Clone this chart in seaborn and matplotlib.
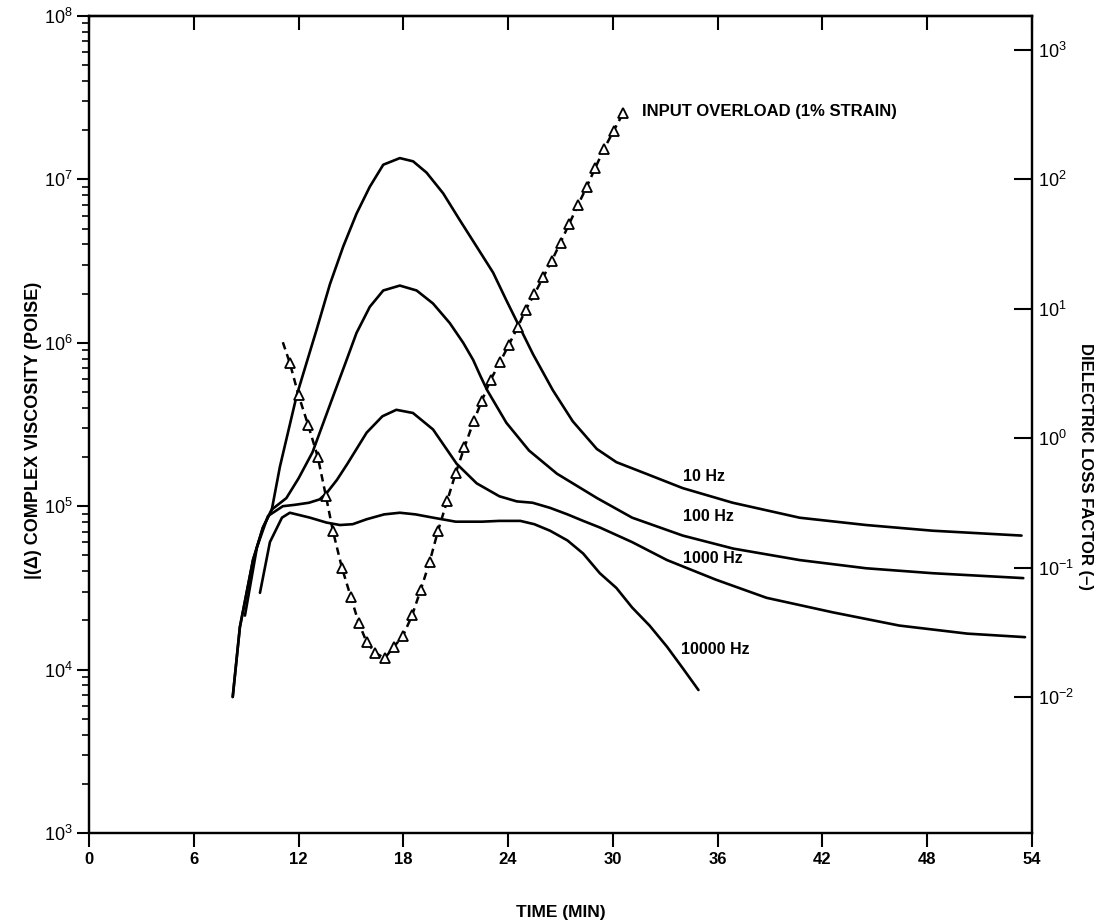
import matplotlib
matplotlib.use("Agg")
import matplotlib.pyplot as plt
import matplotlib.ticker as mticker
import seaborn as sns

# ---------------- data ----------------
time_ticks = [0, 6, 12, 18, 24, 30, 36, 42, 48, 54]

t_10hz = [8.23, 8.64, 9.39, 9.96, 10.47, 10.93, 11.9, 12.55, 13.03, 13.8, 14.56, 15.32,
          16.08, 16.85, 17.8, 18.56, 19.33, 20.28, 21.24, 22.19, 23.14, 23.9, 24.5, 25.43,
          26.56, 27.7, 29.08, 30.2, 32.1, 34.0, 36.86, 40.7, 44.5, 48.3, 53.4]
eta_10hz = [6.8e3, 1.82e4, 4.68e4, 7.41e4, 9.55e4, 1.74e5, 4.79e5, 8.13e5, 1.20e6, 2.29e6,
            3.89e6, 6.17e6, 9.02e6, 1.23e7, 1.35e7, 1.29e7, 1.10e7, 8.22e6, 5.62e6, 3.89e6,
            2.69e6, 1.82e6, 1.35e6, 8.5e5, 5.13e5, 3.31e5, 2.24e5, 1.86e5, 1.55e5, 1.29e5,
            1.05e5, 8.5e4, 7.67e4, 7.08e4, 6.61e4]

t_100hz = [8.23, 8.64, 9.39, 9.96, 10.47, 11.3, 12.0, 12.8, 13.97, 14.75, 15.32, 16.08,
           16.85, 17.8, 18.76, 19.7, 20.66, 21.43, 22.0, 22.4, 22.8, 23.9, 25.2, 26.8,
           29.1, 31.1, 34.0, 36.9, 40.7, 44.5, 48.3, 53.5]
eta_100hz = [6.8e3, 1.82e4, 4.68e4, 7.41e4, 9.55e4, 1.12e5, 1.48e5, 2.14e5, 4.68e5, 7.85e5,
             1.15e6, 1.66e6, 2.09e6, 2.24e6, 2.09e6, 1.74e6, 1.32e6, 1.0e6, 7.85e5, 6.31e5,
             5.13e5, 3.24e5, 2.19e5, 1.58e5, 1.12e5, 8.51e4, 6.61e4, 5.50e4, 4.68e4, 4.17e4,
             3.89e4, 3.63e4]

t_1000hz = [8.93, 9.62, 10.25, 11.1, 11.8, 12.6, 13.2, 13.6, 14.2, 14.8, 15.9, 16.8, 17.6,
            18.55, 19.7, 21.05, 22.2, 23.5, 24.5, 25.4, 26.4, 27.4, 28.3, 29.25, 31.1, 33.1,
            35.9, 38.8, 42.6, 46.4, 50.3, 53.6]
eta_1000hz = [2.14e4, 5.62e4, 8.71e4, 1.0e5, 1.02e5, 1.05e5, 1.10e5, 1.20e5, 1.45e5, 1.82e5,
              2.82e5, 3.55e5, 3.89e5, 3.72e5, 2.95e5, 1.82e5, 1.38e5, 1.15e5, 1.07e5, 1.05e5,
              9.77e4, 8.91e4, 8.13e4, 7.41e4, 6.03e4, 4.68e4, 3.55e4, 2.75e4, 2.24e4, 1.86e4,
              1.66e4, 1.58e4]

t_10000hz = [9.79, 10.36, 11.05, 11.5, 12.65, 13.6, 14.37, 15.1, 15.9, 16.9, 17.8, 18.7,
             19.7, 21.0, 22.5, 23.5, 24.7, 25.5, 26.4, 27.4, 28.3, 29.25, 30.2, 31.1, 32.1,
             33.1, 34.0, 34.9]
eta_10000hz = [2.95e4, 6.03e4, 8.51e4, 9.12e4, 8.51e4, 7.94e4, 7.67e4, 7.76e4, 8.32e4, 8.91e4,
               9.12e4, 8.91e4, 8.51e4, 8.04e4, 8.04e4, 8.13e4, 8.13e4, 7.76e4, 7.08e4, 6.17e4,
               5.13e4, 3.89e4, 3.16e4, 2.40e4, 1.86e4, 1.38e4, 1.02e4, 7.5e3]

t_loss = [11.1, 11.5, 12.0, 12.55, 13.1, 13.57, 13.97, 14.48, 15.0, 15.45, 15.9, 16.4, 16.94,
          17.46, 17.97, 18.5, 19.0, 19.5, 19.98, 20.5, 21.0, 21.5, 22.03, 22.5, 23.0, 23.55,
          24.04, 24.56, 25.0, 25.5, 26.0, 26.5, 27.0, 27.5, 28.0, 28.5, 29.0, 29.5, 30.05, 30.6]
loss = [5.50, 3.80, 2.14, 1.26, 0.716, 0.355, 0.191, 0.100, 0.0589, 0.0372, 0.0266, 0.0219,
        0.0200, 0.0245, 0.0295, 0.0427, 0.0676, 0.110, 0.191, 0.324, 0.537, 0.851, 1.35, 1.95,
        2.82, 3.89, 5.25, 7.24, 9.77, 12.9, 17.4, 23.4, 32.4, 45.2, 63.1, 87.1, 123, 172, 237, 326]

curve_labels = ["10 Hz", "100 Hz", "1000 Hz", "10000 Hz"]
curve_label_x = [34.0, 34.0, 34.0, 33.9]
curve_label_y = [1.53e5, 8.6e4, 4.8e4, 1.32e4]
overload_label = "INPUT OVERLOAD (1% STRAIN)"

# ---------------- style ----------------
sns.set_theme(style="ticks")
plt.rcParams["font.family"] = ["Liberation Sans", "DejaVu Sans"]
plt.rcParams["mathtext.default"] = "regular"
plt.rcParams["axes.linewidth"] = 1.6
for key in ["text.color", "axes.edgecolor", "axes.labelcolor", "xtick.color", "ytick.color"]:
    plt.rcParams[key] = "black"

fig = plt.figure(figsize=(10.97, 9.22), dpi=100)
ax = fig.add_axes([89 / 1097, 1 - 833 / 922, (1032 - 89) / 1097, (833 - 16) / 922])
ax.set_yscale("log")
ax.set_xlim(0, 54)
ax.set_ylim(1e3, 1e8)

lw = 1.9
for t, v in [(t_10hz, eta_10hz), (t_100hz, eta_100hz), (t_1000hz, eta_1000hz),
             (t_10000hz, eta_10000hz)]:
    sns.lineplot(x=t, y=v, ax=ax, color="black", lw=lw, estimator=None, sort=False)

ax.set_xticks(time_ticks)
ax.set_xticklabels([str(v) for v in time_ticks], fontweight="bold")
ax.tick_params(axis="x", direction="out", length=10, width=1.5, labelsize=12, pad=4)
ax.yaxis.set_major_locator(mticker.LogLocator(base=10, numticks=10))
ax.yaxis.set_minor_locator(mticker.LogLocator(base=10, subs=range(2, 10), numticks=20))
ax.yaxis.set_minor_formatter(mticker.NullFormatter())
ax.tick_params(axis="y", which="major", direction="out", length=9, width=1.5,
               labelsize=13, pad=3)
ax.tick_params(axis="y", which="minor", direction="out", length=5, width=1.2)

secx = ax.secondary_xaxis("top")
secx.set_xticks(time_ticks)
secx.tick_params(direction="in", length=10, width=1.5, labeltop=False)
secx.set_xticklabels([])
secx.spines["top"].set_linewidth(1.6)

ax.set_xlabel("TIME (MIN)", fontsize=12.5, fontweight="bold")
ax.xaxis.set_label_coords(0.5, -0.088)
ax.set_ylabel("|(Δ) COMPLEX VISCOSITY (POISE)", fontsize=13, fontweight="bold")
ax.yaxis.set_label_coords(-0.050, 0.493)

for lab, lx, ly in zip(curve_labels, curve_label_x, curve_label_y):
    ax.text(lx, ly, lab, fontsize=11.5, fontweight="bold", ha="left", va="center")
ax.text(31.65, 2.6e7, overload_label, fontsize=12, fontweight="bold", ha="left", va="center")

# ---------------- right axis: dielectric loss factor ----------------
ax2 = ax.twinx()
ax2.set_yscale("log")
ax2.set_ylim(10 ** -3.05, 10 ** 3.26)
sns.lineplot(x=t_loss, y=loss, ax=ax2, color="black", lw=1.8, linestyle=(0, (3, 2)),
             marker="^", markersize=7, markerfacecolor="white", markeredgecolor="black",
             markeredgewidth=1.3, markevery=list(range(1, len(t_loss))),
             estimator=None, sort=False)
ax2.set_yticks([1e-2, 1e-1, 1e0, 1e1, 1e2, 1e3])
ax2.yaxis.set_minor_locator(mticker.NullLocator())
ax2.tick_params(axis="y", which="major", direction="in", length=13, width=1.5,
                labelsize=13, pad=4)
ax2.set_ylabel("")
ax2.text(1.057, 0.448, "DIELECTRIC LOSS FACTOR (–)", transform=ax2.transAxes,
         rotation=-90, ha="center", va="center", fontsize=12, fontweight="bold")
ax2.set_xlim(0, 54)

fig.savefig("out.png", dpi=100)
